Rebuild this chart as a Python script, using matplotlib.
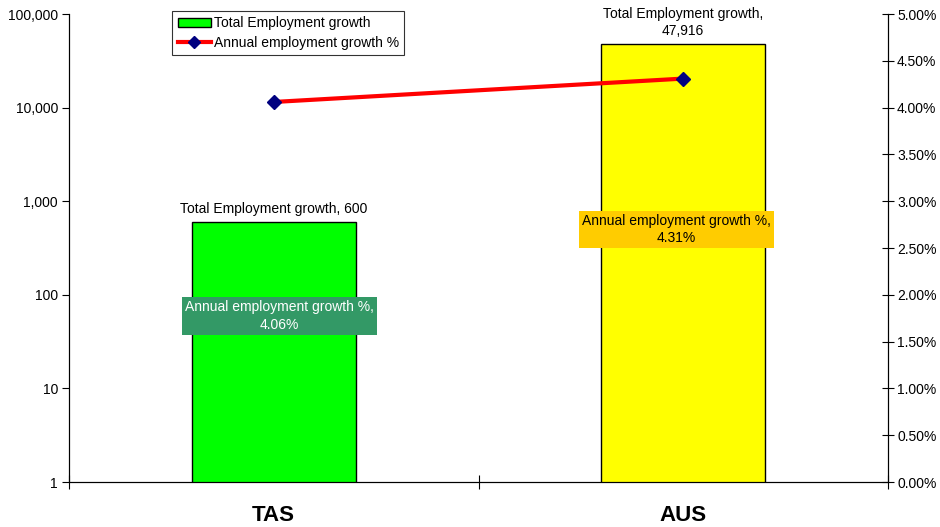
import matplotlib
matplotlib.use("Agg")
import matplotlib.pyplot as plt
from matplotlib.ticker import FixedLocator, FuncFormatter, NullLocator
from matplotlib.lines import Line2D
from matplotlib.patches import Patch
import matplotlib.transforms as mtrans

plt.rcParams['font.family'] = ['Liberation Sans', 'DejaVu Sans']

regions = ["TAS", "AUS"]
emp_growth = [600, 47916]
annual_pct = [4.06, 4.31]
bar_colors = ["#00FF00", "#FFFF00"]
pct_box_colors = ["#339966", "#FFCC00"]
pct_text_colors = ["white", "black"]

fig = plt.figure(figsize=(9.4, 5.27), dpi=100)
ax = fig.add_axes([69 / 940, 45 / 527, 819 / 940, 468 / 527])
ax2 = ax.twinx()

x = list(range(len(regions)))
ax.bar(x, emp_growth, width=0.4, color=bar_colors, edgecolor="black", linewidth=1, zorder=2)
ax.set_yscale("log")
ax.set_ylim(1, 100000)
ax.set_xlim(-0.5, len(regions) - 0.5)
ax.yaxis.set_major_locator(FixedLocator([1, 10, 100, 1000, 10000, 100000]))
ax.yaxis.set_minor_locator(NullLocator())
ax.yaxis.set_major_formatter(FuncFormatter(lambda v, p: f"{v:,.0f}"))
ax.set_xticks([i - 0.5 for i in range(len(regions) + 1)])
ax.set_xticklabels([])
ax.tick_params(axis="x", direction="inout", length=10, width=0.8)
ax.tick_params(axis="y", direction="out", length=5, width=0.8, labelsize=10, pad=3)
for i, r in enumerate(regions):
    ax.text(i, -0.071, r, transform=mtrans.blended_transform_factory(ax.transData, ax.transAxes),
            ha="center", va="center", fontsize=16, fontweight="bold")

# value labels above the bars
bar_lbls = ["Total Employment growth, {:,}", "Total Employment growth,\n{:,}"]
for i, v in enumerate(emp_growth):
    ax.annotate(bar_lbls[i].format(v), (i, v), xytext=(0, 4), textcoords="offset points",
                ha="center", va="bottom", fontsize=10, linespacing=1.35)

ax2.plot(x, [p / 100 for p in annual_pct], color="red", lw=3, marker="D", ms=7,
         mfc="#000080", mec="#000080", zorder=3)
ax2.set_ylim(0, 0.05)
ax2.yaxis.set_major_locator(FixedLocator([i * 0.005 for i in range(11)]))
ax2.yaxis.set_major_formatter(FuncFormatter(lambda v, p: f"{v * 100:.2f}%"))
ax2.tick_params(axis="y", direction="inout", length=9, width=0.8, labelsize=10, pad=2)

# percentage labels in coloured boxes
pct_box_y = [0.355, 0.54]
pct_box_dx = [4, -5]
blend = mtrans.blended_transform_factory(ax2.transData, ax2.transAxes)
for i, p in enumerate(annual_pct):
    ax2.annotate(f"Annual employment growth %,\n{p:.2f}%", (i, pct_box_y[i]), xycoords=blend,
                 xytext=(pct_box_dx[i], 0), textcoords="offset points",
                 ha="center", va="center", fontsize=10, color=pct_text_colors[i], linespacing=1.3,
                 bbox=dict(boxstyle="square,pad=0.22", fc=pct_box_colors[i], ec="none"), zorder=4)

for a in (ax, ax2):
    a.spines["top"].set_visible(False)
    for s in ("left", "right", "bottom"):
        a.spines[s].set_linewidth(0.8)

handles = [Patch(facecolor="#00FF00", edgecolor="black", linewidth=1),
           Line2D([], [], color="red", lw=3, marker="D", ms=6, mfc="#000080", mec="#000080")]
leg = ax2.legend(handles, ["Total Employment growth", "Annual employment growth %"],
                 loc="upper left", bbox_to_anchor=(103 / 819, 1.007), fontsize=10,
                 frameon=True, fancybox=False, edgecolor="black", handlelength=2.4,
                 handletextpad=0.2, labelspacing=0.4, borderpad=0.4, borderaxespad=0)
leg.get_frame().set_linewidth(0.8)

fig.savefig("out.png", dpi=100, facecolor="white")
